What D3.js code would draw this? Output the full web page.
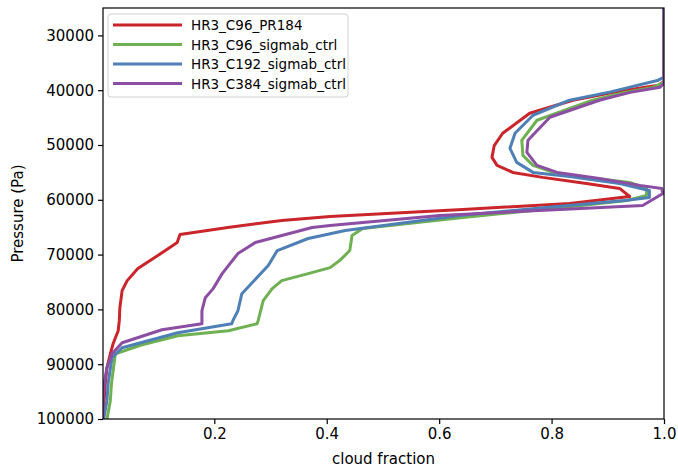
<!DOCTYPE html>
<html>
<head>
<meta charset="utf-8">
<script src="https://cdn.jsdelivr.net/npm/d3@7"></script>
<style>
  body { margin: 0; background: #fff; }
  svg { font-family: "DejaVu Sans", sans-serif; }
</style>
</head>
<body>
<div class="chart"></div>
<script>
// data: [pressure (Pa), cloud fraction]
const seriesNames = ["HR3_C96_PR184", "HR3_C96_sigmab_ctrl", "HR3_C192_sigmab_ctrl", "HR3_C384_sigmab_ctrl"];
const seriesColors = ["#c9252b", "#6fb052", "#4e7fb5", "#8b4ea3"];

const pr184 = [
  [25000, 1.0], [38400, 1.0], [39080, 0.99], [40300, 0.915], [41830, 0.838], [44200, 0.761],
  [47860, 0.713], [50100, 0.698], [52250, 0.694], [53720, 0.703], [55000, 0.731],
  [55910, 0.784], [57010, 0.862], [57920, 0.921], [59390, 0.939], [60670, 0.832],
  [61760, 0.642], [63040, 0.406], [63770, 0.32], [65050, 0.224], [66340, 0.139],
  [67800, 0.134], [69260, 0.113], [72550, 0.064], [74750, 0.045], [76580, 0.036],
  [79690, 0.032], [82060, 0.031], [83890, 0.029], [86270, 0.02], [88100, 0.015],
  [90660, 0.009], [93590, 0.006], [96700, 0.004], [100000, 0.003]
];
const c96ctrl = [
  [25000, 1.0], [38600, 1.0], [39500, 0.98], [40400, 0.93], [41830, 0.873], [45480, 0.774],
  [49140, 0.747], [51890, 0.749], [53720, 0.767], [55000, 0.803], [55910, 0.863],
  [56820, 0.939], [57920, 0.969], [59200, 0.969], [60120, 0.934], [61400, 0.82],
  [63230, 0.642], [65240, 0.464], [66520, 0.445], [69260, 0.441], [71090, 0.423],
  [72370, 0.406], [73470, 0.367], [74750, 0.32], [76210, 0.303], [78410, 0.287],
  [82060, 0.278], [82610, 0.276], [83890, 0.225], [84810, 0.135], [86500, 0.07],
  [88100, 0.024], [93590, 0.017], [96700, 0.015], [100000, 0.009]
];
const c192ctrl = [
  [25000, 1.0], [37600, 1.0], [38170, 0.99], [40310, 0.905], [41830, 0.832], [44570, 0.767],
  [47860, 0.735], [50610, 0.726], [53170, 0.738], [55000, 0.767], [55730, 0.832],
  [57010, 0.921], [58290, 0.974], [59570, 0.974], [60120, 0.93], [61300, 0.8],
  [62860, 0.637], [65600, 0.433], [67060, 0.367], [69260, 0.312], [72000, 0.296],
  [77130, 0.249], [80240, 0.242], [82060, 0.233], [82610, 0.231], [84260, 0.135],
  [87000, 0.036], [88830, 0.018], [93590, 0.011], [96700, 0.009], [100000, 0.003]
];
const c384ctrl = [
  [25000, 1.0], [38700, 1.0], [39450, 0.993], [40400, 0.94], [41830, 0.885], [44940, 0.797],
  [49140, 0.758], [51340, 0.756], [53720, 0.774], [55000, 0.81], [56090, 0.885],
  [57370, 0.957], [57920, 0.996], [58840, 0.998], [61030, 0.962], [61760, 0.815],
  [62860, 0.601], [64690, 0.406], [65050, 0.374], [67800, 0.273], [69810, 0.242],
  [73470, 0.214], [76210, 0.198], [77860, 0.184], [80240, 0.178], [82610, 0.178],
  [83710, 0.107], [86090, 0.036], [88100, 0.018], [90660, 0.009], [93590, 0.004],
  [96700, 0.002], [100000, 0.002]
];
const allSeries = [pr184, c96ctrl, c192ctrl, c384ctrl];

const xTicks = [0.2, 0.4, 0.6, 0.8, 1.0];
const yTicks = [30000, 40000, 50000, 60000, 70000, 80000, 90000, 100000];

const W = 678, H = 467;
const margin = {top: 8, right: 14, bottom: 48, left: 103};

const svg = d3.select(".chart").append("svg")
  .attr("width", W).attr("height", H);

const xScale = d3.scaleLinear().domain([0.002, 1.0]).range([margin.left, W - margin.right]);
const yScale = d3.scaleLinear().domain([25000, 100000]).range([margin.top, H - margin.bottom]);

svg.append("clipPath").attr("id", "plotclip")
  .append("rect")
  .attr("x", margin.left).attr("y", margin.top)
  .attr("width", W - margin.left - margin.right)
  .attr("height", H - margin.top - margin.bottom);

const line = d3.line()
  .x(d => xScale(d[1]))
  .y(d => yScale(d[0]));

svg.append("g").attr("clip-path", "url(#plotclip)")
  .selectAll("path")
  .data(allSeries)
  .join("path")
  .attr("d", line)
  .attr("fill", "none")
  .attr("stroke", (d, i) => seriesColors[i])
  .attr("stroke-width", 3)
  .attr("stroke-linejoin", "round");

// axes
const xAxis = d3.axisBottom(xScale).tickValues(xTicks).tickFormat(d3.format(".1f")).tickSize(5).tickPadding(4);
const yAxis = d3.axisLeft(yScale).tickValues(yTicks).tickFormat(d => d).tickSize(5).tickPadding(4);

const gx = svg.append("g").attr("transform", `translate(0,${H - margin.bottom})`).call(xAxis);
const gy = svg.append("g").attr("transform", `translate(${margin.left},0)`).call(yAxis);
[gx, gy].forEach(g => {
  g.selectAll("text").attr("font-size", 15).attr("fill", "#000").attr("font-family", "DejaVu Sans");
  g.selectAll("line").attr("stroke", "#000").attr("stroke-width", 1.2);
  g.select(".domain").remove();
});

// frame
svg.append("rect")
  .attr("x", margin.left).attr("y", margin.top)
  .attr("width", W - margin.left - margin.right)
  .attr("height", H - margin.top - margin.bottom)
  .attr("fill", "none").attr("stroke", "#000").attr("stroke-width", 1.2);

svg.append("text")
  .attr("x", (margin.left + W - margin.right) / 2).attr("y", 464)
  .attr("text-anchor", "middle").attr("font-size", 15)
  .text("cloud fraction");

svg.append("text")
  .attr("transform", `translate(23,${(margin.top + H - margin.bottom) / 2}) rotate(-90)`)
  .attr("text-anchor", "middle").attr("font-size", 15)
  .text("Pressure (Pa)");

// legend
const legend = svg.append("g");
legend.append("rect")
  .attr("x", 108).attr("y", 14).attr("width", 240).attr("height", 83)
  .attr("rx", 3).attr("fill", "#fff").attr("fill-opacity", 0.85)
  .attr("stroke", "#d0d0d0");
seriesNames.forEach((name, i) => {
  const y = 25 + i * 19.5;
  legend.append("line")
    .attr("x1", 113).attr("x2", 182).attr("y1", y).attr("y2", y)
    .attr("stroke", seriesColors[i]).attr("stroke-width", 3);
  legend.append("text")
    .attr("x", 191).attr("y", y + 5)
    .attr("font-size", 13.5)
    .text(name);
});
</script>
</body>
</html>
